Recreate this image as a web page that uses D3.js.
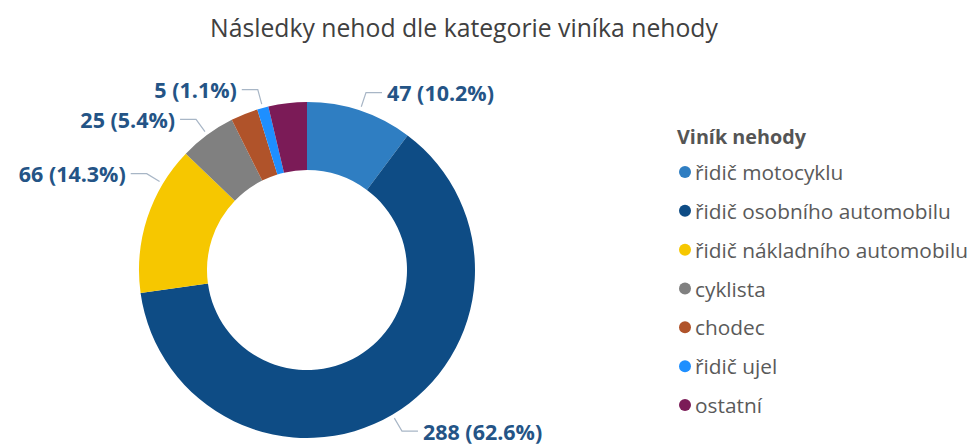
<!DOCTYPE html>
<html><head><meta charset="utf-8">
<script src="https://cdn.jsdelivr.net/npm/d3@7"></script>
<style>html,body{margin:0;padding:0;background:#fff;}svg{display:block;}</style>
</head><body>
<svg id="chart" width="973" height="446"></svg>
<script>
const categories = ["řidič motocyklu","řidič osobního automobilu","řidič nákladního automobilu","cyklista","chodec","řidič ujel","ostatní"];
const values = [47, 288, 66, 25, 12, 5, 17];
const colors = ["#2f7ec2","#0e4c85","#f6c700","#808080","#b0532a","#1e8fff","#7b1b57"];
const labeled = [true, true, true, true, false, true, false];
const title = "Následky nehod dle kategorie viníka nehody";
const legendTitle = "Viník nehody";

const svg = d3.select("#chart");
const font = "'Open Sans', 'Noto Sans', sans-serif";

function fitText(sel, target) {
  const w = sel.node().getComputedTextLength();
  const fs = parseFloat(sel.attr("font-size"));
  sel.attr("font-size", (fs * target / w).toFixed(2));
}

// title
const t = svg.append("text").attr("x", 464).attr("y", 27).attr("text-anchor","middle")
  .attr("dominant-baseline","central").attr("font-family", font).attr("font-size", 20)
  .attr("fill","#404040").text(title);
fitText(t, 508);

const cx = 307, cy = 270, rOuter = 168, rInner = 100;
const total = d3.sum(values);
const data = categories.map((c,i)=>({cat:c, value:values[i], color:colors[i], labeled:labeled[i]}));
const pie = d3.pie().value(d=>d.value).sort(null);
const arcs = pie(data);
const arc = d3.arc().innerRadius(rInner).outerRadius(rOuter);

const g = svg.append("g").attr("transform", `translate(${cx},${cy})`);
g.selectAll("path.slice").data(arcs).join("path").attr("class","slice")
  .attr("d", arc).attr("fill", d=>d.data.color);

// label angle adjustments (degrees) where the original shifts labels
const angleShift = {"řidič nákladního automobilu": 13};
const fmt = d3.format(".1%");
const labelTexts = [];
arcs.filter(d=>d.data.labeled).forEach(d=>{
  const mid = (d.startAngle + d.endAngle)/2 + (angleShift[d.data.cat]||0)*Math.PI/180;
  const p = r => [Math.sin(mid)*r, -Math.cos(mid)*r];
  const a = p(rOuter+4), b = p(rOuter+19);
  const right = Math.sin(mid) > 0;
  const c = [b[0] + (right?16:-16), b[1]];
  g.append("polyline").attr("points", [a,b,c].map(q=>q.join(",")).join(" "))
    .attr("fill","none").attr("stroke","#a8b6c6").attr("stroke-width",1.2);
  const tx = g.append("text").attr("x", c[0] + (right?5:-5)).attr("y", c[1])
    .attr("text-anchor", right?"start":"end").attr("dominant-baseline","central")
    .attr("font-family", font).attr("font-weight","bold").attr("font-size", 18)
    .attr("fill","#245486").text(`${d.data.value} (${fmt(d.data.value/total)})`);
  labelTexts.push({d, tx});
});
// size labels so "47 (10.2%)" matches the original width
const ref = labelTexts.find(o=>o.d.data.value===47).tx;
const lw = ref.node().getComputedTextLength();
const lfs = (18*107/lw).toFixed(2);
labelTexts.forEach(o=>o.tx.attr("font-size", lfs));

// legend
const lg = svg.append("g");
const lt = lg.append("text").attr("x", 677).attr("y", 136).attr("dominant-baseline","central")
  .attr("font-family", font).attr("font-weight","bold").attr("font-size", 17)
  .attr("fill","#555").text(legendTitle);
fitText(lt, 129);
const ly = d3.scalePoint().domain(categories).range([172, 405]);
const items = lg.selectAll("g.item").data(data).join("g").attr("class","item")
  .attr("transform", d=>`translate(0,${ly(d.cat)})`);
items.append("circle").attr("cx", 685).attr("cy", 0).attr("r", 6).attr("fill", d=>d.color);
const texts = items.append("text").attr("x", 695).attr("y", 0).attr("dominant-baseline","central")
  .attr("font-family", font).attr("font-size", 18).attr("fill","#5a5a5a").text(d=>d.cat);
const longest = texts.filter(d=>d.cat==="řidič nákladního automobilu");
const w = longest.node().getComputedTextLength();
texts.attr("font-size", (18*273/w).toFixed(2));
</script>
</body></html>
